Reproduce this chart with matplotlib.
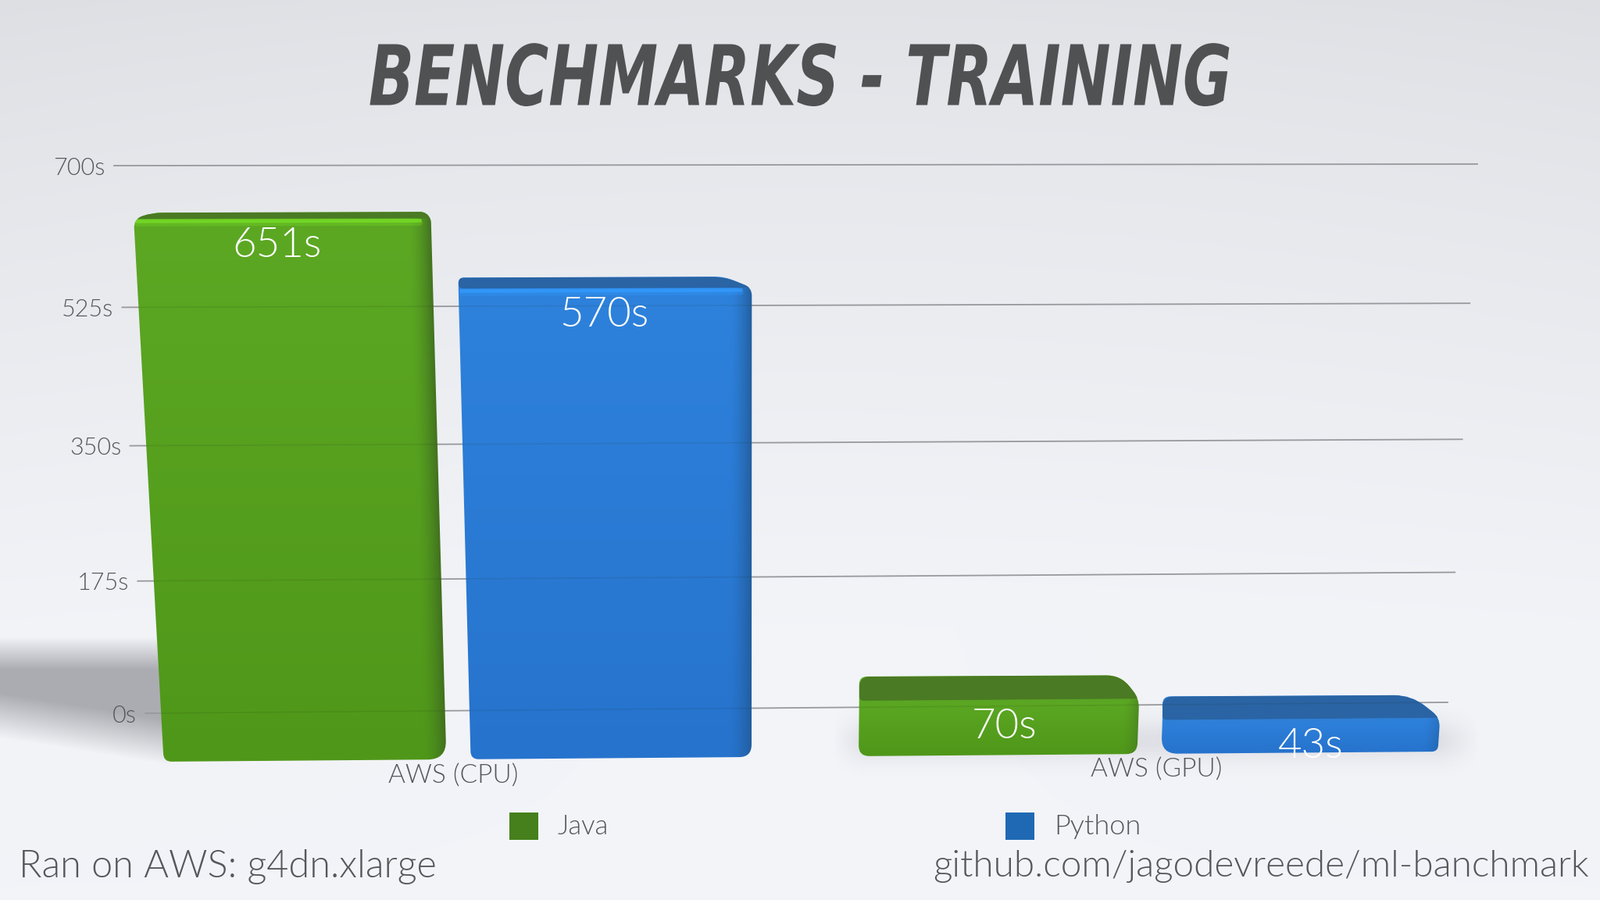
import numpy as np
import matplotlib
matplotlib.use("Agg")
import matplotlib.pyplot as plt
from matplotlib.patches import PathPatch, Rectangle
from matplotlib.path import Path
from matplotlib.patheffects import AbstractPathEffect
from matplotlib.transforms import Affine2D, Transform

TITLE = "BENCHMARKS - TRAINING"
CATEGORIES = ["AWS (CPU)", "AWS (GPU)"]
SERIES = ["Java", "Python"]
JAVA = [651, 70]
PYTHON = [570, 43]
TICKS = [0, 175, 350, 525, 700]
FOOT_LEFT = "Ran on AWS: g4dn.xlarge"
FOOT_RIGHT = "github.com/jagodevreede/ml-banchmark"

GREEN = {"top": "#5ca823", "bottom": "#4f9719", "side": "#3f6a20", "face": "#4a7a24",
         "light": "#78e026", "soft": "#5aa524", "legend": "#45801c"}
BLUE = {"top": "#2e82dc", "bottom": "#2673cd", "side": "#225a96", "face": "#2a64a4",
        "light": "#339cff", "soft": "#2f7fd6", "legend": "#1f69b4"}

X_MIN, X_MAX = -0.431, 1.43
Y_MIN, Y_MAX = 0, 700
OFFSET = 0.22
BAR_W = 0.405

FONT = "Lato"
LIGHT = 300
INK = "#55575b"


class Homography(Transform):
    # chart plane (category, seconds) -> picture pixels
    input_dims = 2
    output_dims = 2
    is_separable = False
    has_inverse = False

    def __init__(self, corners):
        super().__init__()
        src = [(X_MIN, Y_MIN), (X_MIN, Y_MAX), (X_MAX, Y_MAX), (X_MAX, Y_MIN)]
        a, b = [], []
        for (x, y), (u, v) in zip(src, corners):
            a.append([x, y, 1, 0, 0, 0, -u * x, -u * y])
            a.append([0, 0, 0, x, y, 1, -v * x, -v * y])
            b += [u, v]
        self.m = np.append(np.linalg.solve(np.array(a, float), np.array(b, float)), 1).reshape(3, 3)

    def transform_non_affine(self, values):
        values = np.asarray(values, float)
        pts = np.column_stack([values, np.ones(len(values))]) @ self.m.T
        return pts[:, :2] / pts[:, 2:]


class StretchY(AbstractPathEffect):
    # the title font in the reference is much taller than anything installed
    def __init__(self, factor, base_y):
        super().__init__()
        self.factor = factor
        self.base_y = base_y

    def draw_path(self, renderer, gc, tpath, affine, rgbFace=None):
        stretch = Affine2D().translate(0, -self.base_y).scale(1, self.factor).translate(0, self.base_y)
        renderer.draw_path(gc, tpath, affine + stretch, rgbFace)


WALL = Homography([(186, 913), (146, 212), (1891, 210), (1853, 899)])
FRONT = Homography([(202, 975), (160, 225), (1896, 222), (1847, 962)])
BACK = Homography([(245, 941), (183, 221), (1782, 216), (1815, 933)])


def rounded_path(points, radii):
    verts, codes = [], []
    n = len(points)
    for i in range(n):
        p = np.array(points[i], float)
        a = np.array(points[i - 1], float) - p
        b = np.array(points[(i + 1) % n], float) - p
        la, lb = np.hypot(*a), np.hypot(*b)
        r = min(radii[i], la / 2.05, lb / 2.05)
        verts += [p + a / la * r, p, p + b / lb * r]
        codes += [Path.LINETO, Path.CURVE3, Path.CURVE3]
    codes[0] = Path.MOVETO
    verts.append(verts[0])
    codes.append(Path.CLOSEPOLY)
    return Path(np.array(verts), codes)


def rgb(color):
    return np.array(matplotlib.colors.to_rgb(color))


def draw_background(ax):
    yy, xx = np.mgrid[0:1152:144j, 0:2048:256j]
    level = 0.885 + 0.07 * np.clip(yy / 800, 0, 1) ** 0.8
    level -= 0.012 * np.abs(xx / 1024 - 1) ** 2 * (1 - yy / 1152)
    img = np.dstack([level - 0.004, level + 0.002, level + 0.018])
    ax.imshow(np.clip(img, 0, 1), extent=[0, 2048, 1152, 0], aspect="auto", zorder=0, interpolation="bilinear")


def draw_shadows(ax):
    # big soft shadow left of the first bar
    yy, xx = np.mgrid[790:1000:210j, 0:216:216j]
    top = np.clip((yy - 815) / 42, 0, 1)
    low = np.clip((945 + xx * 0.16 - yy) / 58, 0, 1)
    alpha = 0.37 * top * low
    img = np.dstack([np.full_like(alpha, 0.2), np.full_like(alpha, 0.2), np.full_like(alpha, 0.23), alpha])
    ax.imshow(img, extent=[0, 216, 1000, 790], aspect="auto", zorder=1, interpolation="bilinear")
    # soft contact shadow under the low bars
    yy, xx = np.mgrid[900:1000:100j, 1060:1900:420j]
    alpha = 0.1 * np.exp(-((yy - 948) / 26) ** 2) * np.clip((xx - 1065) / 40, 0, 1) * np.clip((1895 - xx) / 50, 0, 1)
    img = np.dstack([np.full_like(alpha, 0.2), np.full_like(alpha, 0.2), np.full_like(alpha, 0.25), alpha])
    ax.imshow(img, extent=[1060, 1900, 1000, 900], aspect="auto", zorder=1, interpolation="bilinear")


def draw_bar(ax, x, value, col, radii):
    x0, x1 = x - BAR_W / 2, x + BAR_W / 2
    fbl, fbr, ftr, ftl = FRONT.transform_non_affine(np.array([[x0, 0], [x1, 0], [x1, value], [x0, value]]))
    btr, btl = BACK.transform_non_affine(np.array([[x1, value], [x0, value]]))
    btl[0] = max(btl[0], ftl[0])
    short = value < 200

    hull = PathPatch(rounded_path([fbl, fbr, ftr, btr, btl, ftl], radii), fc="none", ec="none", zorder=3)
    ax.add_patch(hull)

    # body shading in pixels, clipped to the outline
    left, right = int(min(fbl[0], ftl[0])) - 3, int(max(fbr[0], ftr[0])) + 3
    top, bottom = int(min(btl[1], btr[1])) - 3, int(max(fbl[1], fbr[1])) + 3
    yy, xx = np.mgrid[top:bottom, left:right]
    s = np.clip((yy - ftr[1]) / (fbr[1] - ftr[1]), 0, 1)
    edge = ftr[0] + (fbr[0] - ftr[0]) * s
    body = rgb(col["top"]) + (rgb(col["bottom"]) - rgb(col["top"])) * s[..., None]
    band = 22 if short else 30
    dark = np.clip((xx - (edge - band)) / band, 0, 1)[..., None] ** 1.6
    body = body + (rgb(col["side"]) - body) * dark * (0.45 if short else 0.9)
    im = ax.imshow(np.clip(body, 0, 1), extent=[left, right, bottom, top], aspect="auto", zorder=3)
    im.set_clip_path(hull)

    # top face and the lit front edge
    face = PathPatch(rounded_path([ftl, ftr, btr, btl], [6, 6, 22, 22]), fc=col["face"], ec="none", zorder=4)
    ax.add_patch(face)
    face.set_clip_path(hull)
    xs = [ftl[0] + 4, ftr[0] - 14]
    ys = np.array([ftl[1], ftr[1]])
    if short:
        glow, = ax.plot(xs, ys + 2, color=col["soft"], lw=2.4, alpha=0.9, zorder=5)
        glow.set_clip_path(hull)
    else:
        for lift, lw, alpha in [(6, 5, 0.3), (3, 3.5, 0.75)]:
            glow, = ax.plot(xs, ys + lift, color=col["light"], lw=lw, alpha=alpha, zorder=5, solid_capstyle="round")
            glow.set_clip_path(hull)

    # bars are slightly see-through: gridlines show up inside them
    for tick in TICKS:
        line, = ax.plot([X_MIN, X_MAX], [tick, tick], transform=WALL + ax.transData,
                        color="#1c2a20", lw=1.2, alpha=0.1, zorder=6)
        line.set_clip_path(hull)

    # value label, a fixed distance under the bar's front top edge
    lx, ly = FRONT.transform_non_affine(np.array([[x, value]]))[0]
    ax.text(850 + (lx - 850) * 1.015, ly + 35, f"{value}s", color="white", fontsize=38, family=FONT,
            weight=LIGHT, ha="center", va="center", zorder=8)


fig = plt.figure(figsize=(20.48, 11.52), dpi=100)
ax = fig.add_axes([0, 0, 1, 1])
ax.axis("off")

draw_background(ax)
draw_shadows(ax)

for tick in TICKS:
    ax.plot([X_MIN, X_MAX], [tick, tick], transform=WALL + ax.transData, color="#98999d", lw=1.3, zorder=2)
    px, py = WALL.transform_non_affine(np.array([[X_MIN, tick]]))[0]
    ax.text(px - 11, py + 3, f"{tick}s", color=INK, fontsize=22, family=FONT, weight=LIGHT,
            ha="right", va="center", zorder=2)

BAR_RADII = [
    [10, 24, 12, 14, 22, 12],
    [10, 16, 10, 12, 22, 12],
    [14, 14, 12, 28, 10, 10],
    [24, 8, 12, 32, 10, 10],
]
draw_bar(ax, 0 - OFFSET, JAVA[0], GREEN, BAR_RADII[0])
draw_bar(ax, 0 + OFFSET, PYTHON[0], BLUE, BAR_RADII[1])
draw_bar(ax, 1 - OFFSET, JAVA[1], GREEN, BAR_RADII[2])
draw_bar(ax, 1 + OFFSET, PYTHON[1], BLUE, BAR_RADII[3])

ax.text(1024, 134.5, TITLE, color="#4f5153", fontsize=55, family="DejaVu Sans", weight="bold",
        style="italic", ha="center", va="baseline", zorder=9,
        path_effects=[StretchY(1.40, 1152 - 134.5)])

ax.text(580, 993, CATEGORIES[0], color=INK, fontsize=24, family=FONT, weight=LIGHT, ha="center", va="center", zorder=9)
ax.text(1480, 985, CATEGORIES[1], color=INK, fontsize=24, family=FONT, weight=LIGHT, ha="center", va="center", zorder=9)

ax.add_patch(Rectangle((652, 1040), 37, 35, fc=GREEN["legend"], ec="none", zorder=9))
ax.add_patch(Rectangle((1287, 1040), 37, 35, fc=BLUE["legend"], ec="none", zorder=9))
ax.text(714, 1058, SERIES[0], color=INK, fontsize=25, family=FONT, weight=LIGHT, va="center", zorder=9)
ax.text(1349, 1058, SERIES[1], color=INK, fontsize=26, family=FONT, weight=LIGHT, va="center", zorder=9)

ax.text(24, 1109, FOOT_LEFT, color=INK, fontsize=35, family=FONT, weight=LIGHT, va="center", zorder=9)
ax.text(2034, 1109, FOOT_RIGHT, color=INK, fontsize=34.4, family=FONT, weight=LIGHT, ha="right", va="center", zorder=9)

ax.set_xlim(0, 2048)
ax.set_ylim(1152, 0)

fig.savefig("out.png", dpi=100)
